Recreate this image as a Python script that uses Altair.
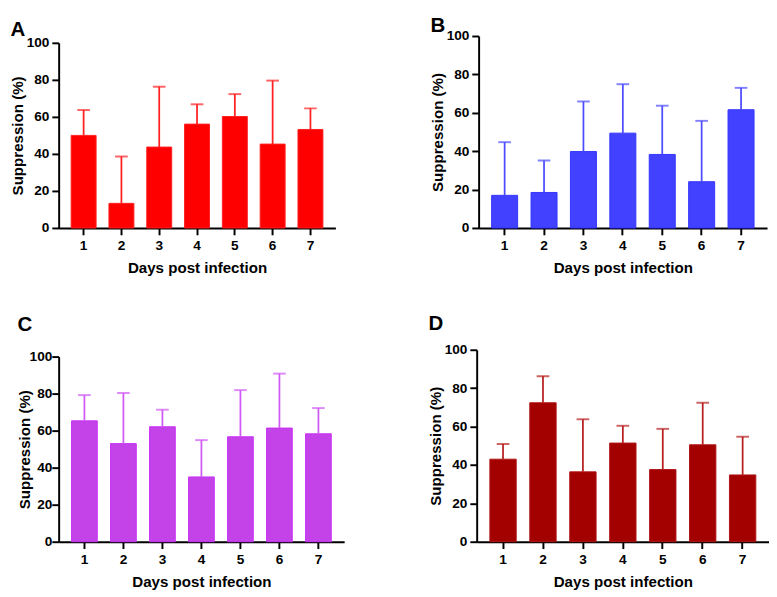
import altair as alt
import pandas as pd

days = [1, 2, 3, 4, 5, 6, 7]
y_ticks = [0, 20, 40, 60, 80, 100]

a_mean = [50.0, 13.3, 43.7, 56.1, 60.2, 45.3, 53.2]
a_sd = [13.7, 25.3, 32.6, 10.7, 12.1, 34.3, 11.4]

b_mean = [17.0, 18.5, 39.8, 49.4, 38.3, 24.1, 61.6]
b_sd = [27.7, 16.6, 26.1, 25.5, 25.4, 31.7, 11.4]

c_mean = [65.3, 53.0, 62.1, 35.0, 56.7, 61.4, 58.3]
c_sd = [13.9, 27.3, 9.2, 19.9, 25.2, 29.4, 13.9]

d_mean = [43.0, 72.4, 36.4, 51.4, 37.6, 50.5, 34.8]
d_sd = [7.9, 13.8, 27.4, 9.0, 21.2, 21.9, 19.9]

FONT = "Liberation Sans"


def panel(letter, mean, sd, fill, stroke, err, w, h, top_gap, toff, ylp, ytp):
    df = pd.DataFrame({
        "day": days,
        "mean": mean,
        "upper": [m + s for m, s in zip(mean, sd)],
    })
    xscale = alt.Scale(paddingInner=0.34, paddingOuter=0.33)
    xaxis = alt.Axis(title="Days post infection", labelAngle=0, titlePadding=9,
                     labelPadding=4)
    yscale = alt.Scale(domain=[0, 100], nice=False, range=[h, top_gap])
    yaxis = alt.Axis(title="Suppression (%)", values=y_ticks, labelPadding=ylp,
                     titlePadding=ytp, labelOverlap=False)
    xenc = alt.X("day:O", scale=xscale, axis=xaxis)
    base = alt.Chart(df).encode(x=xenc)
    bars = base.mark_bar(color=fill, stroke=stroke, strokeWidth=1).encode(
        y=alt.Y("mean:Q", scale=yscale, axis=yaxis)
    )
    rule = base.mark_rule(color=err, strokeWidth=1.8).encode(
        y=alt.Y("mean:Q", scale=yscale, axis=yaxis),
        y2="upper:Q",
    )
    cap = base.mark_tick(color=err, size=13, thickness=2).encode(
        y=alt.Y("upper:Q", scale=yscale, axis=yaxis),
    )
    return alt.layer(bars, rule, cap).properties(
        width=w,
        height=h,
        title=alt.TitleParams(
            letter, anchor="start", frame="bounds", offset=toff,
            fontSize=21, font=FONT, fontWeight="bold", color="black",
        ),
    )


pa = panel("A", a_mean, a_sd, "#FF0000", "#FF2020", "#FF2020", 284, 197, 7, -4, 3, 1)
pb = panel("B", b_mean, b_sd, "#4141FF", "#3333FF", "#4D4DFF", 296, 197, 0, -7, 3, 1)
pc = panel("C", c_mean, c_sd, "#C443E9", "#C830F5", "#D05AF5", 293, 197, 7, 15, 0, -3)
pd_ = panel("D", d_mean, d_sd, "#A30000", "#B01515", "#B82020", 300, 197, 0, 9, 3, 1)

top = alt.hconcat(pa, pb, spacing=97)
bottom = alt.hconcat(pc, pd_, spacing=86)

chart = (
    alt.vconcat(top, bottom, spacing=38)
    .properties(padding={"left": 2, "top": 0, "right": 0, "bottom": 0})
    .configure_view(stroke=None)
    .configure_axis(
        grid=False,
        domainColor="black",
        domainWidth=2,
        tickColor="black",
        tickWidth=2,
        tickSize=7,
        labelFont=FONT,
        labelFontSize=14,
        labelFontWeight="bold",
        labelColor="black",
        titleFont=FONT,
        titleFontSize=15.5,
        titleFontWeight="bold",
        titleColor="black",
    )
)

chart.save("out.html", embed_options={"renderer": "svg", "actions": False})
